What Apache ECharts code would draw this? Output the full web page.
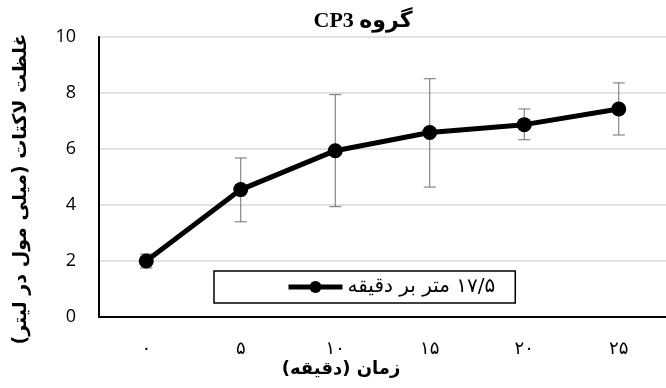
<!DOCTYPE html>
<html>
<head>
<meta charset="utf-8">
<script src="https://cdn.jsdelivr.net/npm/echarts@6/dist/echarts.min.js"></script>
<style>html,body{margin:0;padding:0;background:#fff}#c{width:666px;height:388px}</style>
</head>
<body>
<div id="c"></div>
<script>
const categories = ['۰', '۵', '۱۰', '۱۵', '۲۰', '۲۵'];
const seriesName = '۱۷/۵ متر بر دقیقه';
const values = [2.0, 4.55, 5.94, 6.59, 6.87, 7.43];
const errLow = [1.75, 3.40, 3.94, 4.64, 6.33, 6.50];
const errHigh = [2.25, 5.68, 7.94, 8.51, 7.43, 8.36];
const yTicks = [0, 2, 4, 6, 8, 10];
const titleText = 'گروه CP3';
const xName = 'زمان (دقیقه)';
const yName = 'غلظت لاکتات (میلی مول در لیتر)';

const rtl = s => '\u202B' + s + '\u202C';
const arabicFont = '"Liberation Serif", "DejaVu Sans", serif';

const chart = echarts.init(document.getElementById('c'), null, {renderer: 'canvas'});
chart.setOption({
  animation: false,
  backgroundColor: '#ffffff',
  grid: {left: 99, top: 37, width: 578, height: 280, containLabel: false},
  xAxis: {
    type: 'category',
    data: categories,
    boundaryGap: true,
    axisLine: {lineStyle: {color: '#000', width: 2}},
    axisTick: {show: false},
    axisLabel: {color: '#000', fontSize: 18, margin: 23, fontFamily: '"DejaVu Sans"'},
    splitLine: {show: false}
  },
  yAxis: {
    type: 'value',
    min: yTicks[0],
    max: yTicks[yTicks.length - 1],
    interval: 2,
    axisLine: {show: true, lineStyle: {color: '#000', width: 2}},
    axisTick: {show: false},
    axisLabel: {color: '#000', fontSize: 18, margin: 23, fontFamily: '"Open Sans", sans-serif'},
    splitLine: {lineStyle: {color: '#d9d9d9', width: 1.5}}
  },
  legend: {
    left: 214,
    top: 271,
    orient: 'horizontal',
    padding: [6, 20, 6, 72],
    borderColor: '#000',
    borderWidth: 1.5,
    itemWidth: 54,
    itemHeight: 15,
    itemGap: 5,
    data: [seriesName],
    formatter: n => rtl(n),
    lineStyle: {width: 5, color: '#000'},
    textStyle: {color: '#000', fontSize: 20, fontFamily: '"DejaVu Sans"'}
  },
  graphic: [
    {type: 'text', x: 363, y: 21, z: 10,
     style: {text: rtl(titleText), fill: '#000', font: 'bold 22px ' + arabicFont, align: 'center', verticalAlign: 'middle'}},
    {type: 'text', x: 341, y: 369, z: 10,
     style: {text: rtl(xName), fill: '#000', font: 'bold 18px "DejaVu Sans"', align: 'center', verticalAlign: 'middle'}},
    {type: 'text', x: 21, y: 189, rotation: Math.PI / 2, z: 10,
     style: {text: rtl(yName), fill: '#000', font: 'bold 19px "DejaVu Sans"', align: 'center', verticalAlign: 'middle'}}
  ],
  series: [
    {
      type: 'custom',
      name: 'err',
      z: 1,
      silent: true,
      data: categories.map((c, i) => [i, errLow[i], errHigh[i]]),
      renderItem: function (params, api) {
        const lo = api.coord([api.value(0), api.value(1)]);
        const hi = api.coord([api.value(0), api.value(2)]);
        const hw = 6;
        const st = {stroke: '#6f6f6f', lineWidth: 1};
        return {
          type: 'group',
          children: [
            {type: 'line', shape: {x1: lo[0], y1: lo[1], x2: hi[0], y2: hi[1]}, style: st},
            {type: 'line', shape: {x1: lo[0] - hw, y1: lo[1], x2: lo[0] + hw, y2: lo[1]}, style: st},
            {type: 'line', shape: {x1: hi[0] - hw, y1: hi[1], x2: hi[0] + hw, y2: hi[1]}, style: st}
          ]
        };
      }
    },
    {
      type: 'line',
      name: seriesName,
      z: 5,
      data: values,
      symbol: 'circle',
      symbolSize: 15,
      lineStyle: {color: '#000', width: 5},
      itemStyle: {color: '#000'}
    }
  ]
});
</script>
</body>
</html>
